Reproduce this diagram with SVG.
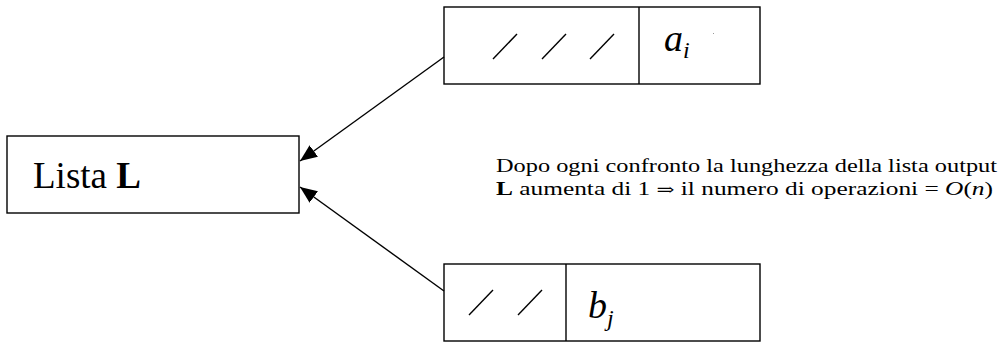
<svg xmlns="http://www.w3.org/2000/svg" width="998" height="342" viewBox="0 0 998 342">
<style>
.box{fill:#fff;stroke:#000;stroke-width:1.4}
.ln{stroke:#000;stroke-width:1.4;fill:none}
.sl{stroke:#000;stroke-width:1.4}
.t{font-family:"Liberation Serif","DejaVu Serif",serif;fill:#000}
.conn{stroke:#000;stroke-width:1.4;fill:none;marker-end:url(#ah)}
</style>
<defs>
<marker id="ah" viewBox="0 0 10 10" refX="10" refY="5" markerWidth="17" markerHeight="17" markerUnits="userSpaceOnUse" orient="auto">
<path d="M0,0.8 L10,5 L0,9.2 Z" fill="#000"/>
</marker>
</defs>
<g id="lista">
<rect class="box" x="7" y="136" width="292" height="77"/>
<text class="t" x="33" y="188" font-size="37">Lista <tspan font-weight="bold">L</tspan></text>
</g>
<g id="node-a">
<rect class="box" x="444" y="7" width="316" height="77"/>
<line class="ln" x1="639" y1="7" x2="639" y2="84"/>
<line class="sl" x1="493" y1="59" x2="517" y2="34"/>
<line class="sl" x1="542" y1="59" x2="566" y2="34"/>
<line class="sl" x1="590" y1="59" x2="614" y2="34"/>
<text class="t" x="664" y="51" font-size="38" font-style="italic">a<tspan font-size="24" dy="7">i</tspan></text>
<rect x="713" y="33" width="1" height="1" fill="#999"/>
</g>
<g id="node-b">
<rect class="box" x="444" y="264" width="316" height="77"/>
<line class="ln" x1="566" y1="264" x2="566" y2="341"/>
<line class="sl" x1="469" y1="315" x2="493" y2="290"/>
<line class="sl" x1="518" y1="315" x2="542" y2="290"/>
<text class="t" x="588" y="318" font-size="38" font-style="italic">b<tspan font-size="24" dy="8">j</tspan></text>
</g>
<g id="note">
<text class="t" x="496" y="172" font-size="19" textLength="501" lengthAdjust="spacingAndGlyphs">Dopo ogni confronto la lunghezza della lista output</text>
<text class="t" x="496" y="195" font-size="19" textLength="497" lengthAdjust="spacingAndGlyphs"><tspan font-weight="bold">L</tspan> aumenta di 1 <tspan font-family="DejaVu Serif" font-size="16">⇒</tspan> il numero di operazioni = <tspan font-style="italic">O</tspan>(<tspan font-style="italic">n</tspan>)</text>
</g>
<g id="connectors">
<line class="conn" x1="444" y1="57" x2="300" y2="161"/>
<line class="conn" x1="444" y1="291" x2="300" y2="187"/>
</g>
</svg>
